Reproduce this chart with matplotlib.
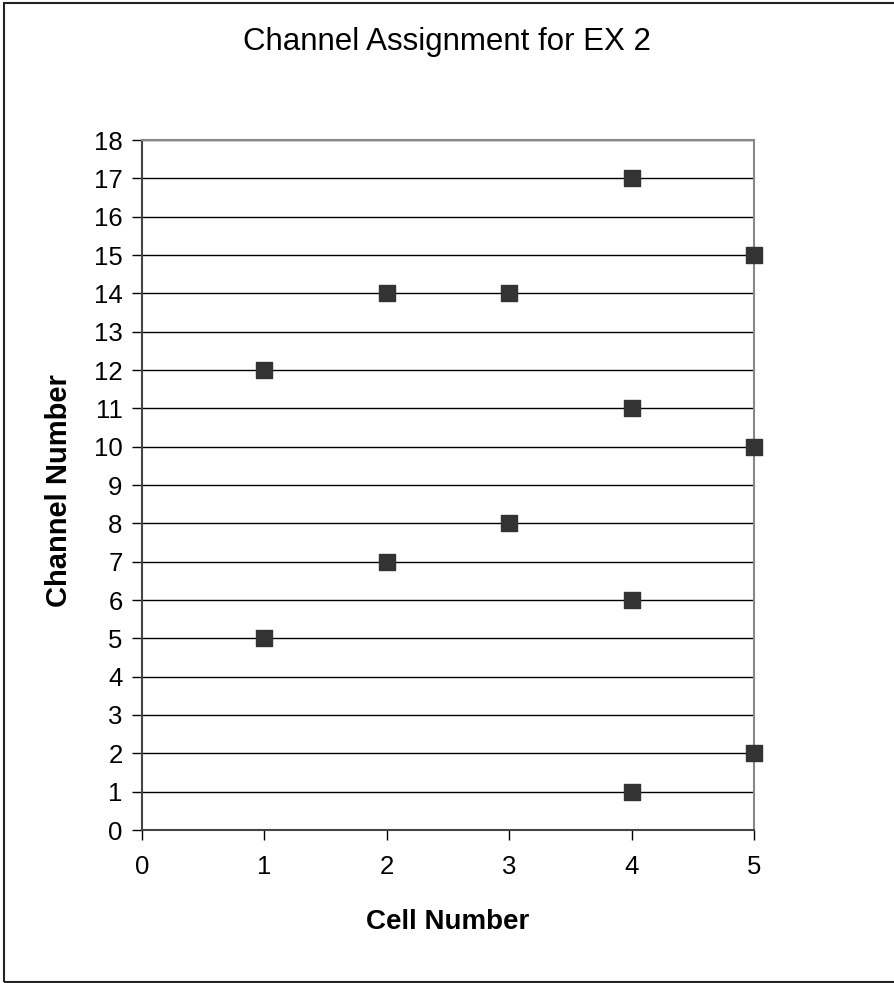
import matplotlib
matplotlib.use('Agg')
import matplotlib.pyplot as plt
from matplotlib.patches import Rectangle

cells = [1, 1, 2, 2, 3, 3, 4, 4, 4, 4, 5, 5, 5]
channels = [12, 5, 14, 7, 14, 8, 17, 11, 6, 1, 15, 10, 2]
x_ticks = [0, 1, 2, 3, 4, 5]
y_ticks = list(range(0, 19))

plt.rcParams['font.family'] = ['Liberation Sans', 'DejaVu Sans']

fig = plt.figure(figsize=(8.94, 9.83), dpi=100)
ax = fig.add_axes([142/894, 1-830/983, (754-142)/894, (830-140)/983])

# figure border
fig.patches.append(Rectangle((4/894, 1-982/983), 1.0, 979/983, transform=fig.transFigure,
                             fill=False, edgecolor='#222222', linewidth=1.5, zorder=0))

ax.set_xlim(0, 5)
ax.set_ylim(0, 18)
ax.set_xticks(x_ticks)
ax.set_yticks(y_ticks)
ax.grid(axis='y', color='black', linewidth=1)
ax.set_axisbelow(True)

ax.scatter(cells, channels, marker='s', s=16**2*0.72**2*0.96, color='#333333', zorder=3, clip_on=False)

for s in ['top', 'right']:
    ax.spines[s].set_color('#888888')
    ax.spines[s].set_linewidth(1.5)
for s in ['left', 'bottom']:
    ax.spines[s].set_color('#444444')
    ax.spines[s].set_linewidth(1.5)

ax.tick_params(direction='out', length=7, width=1, labelsize=18.5)
ax.tick_params(axis='y', pad=7)
ax.tick_params(axis='x', pad=11)

ax.set_xlabel('Cell Number', fontsize=20, fontweight='bold')
ax.set_ylabel('Channel Number', fontsize=21, fontweight='bold')
ax.xaxis.set_label_coords(448/894, 1-909/983, transform=fig.transFigure)
ax.yaxis.set_label_coords(73/894, 1-491/983, transform=fig.transFigure)
fig.text(447/894, 1-42/983, 'Channel Assignment for EX 2', fontsize=22.5, ha='center', va='center')

fig.savefig('out.png', dpi=100)
